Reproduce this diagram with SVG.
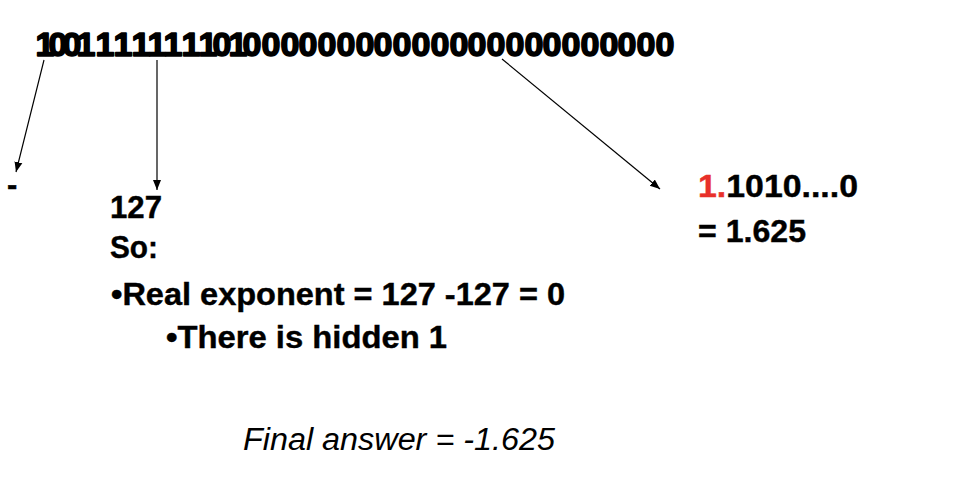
<svg xmlns="http://www.w3.org/2000/svg" width="958" height="494" viewBox="0 0 958 494">
<style>
  .t { font-family: "Liberation Sans", Arial, sans-serif; font-weight: bold; fill: #000; stroke: #000; stroke-width: 0.4; }
  .bits { font-family: "Liberation Sans", Arial, sans-serif; font-weight: bold; font-size: 34px; fill: #000; stroke: #000; stroke-width: 1.6; stroke-linejoin: round; }
  .conn { stroke: #000; stroke-width: 1.2; fill: none; }
  .red { fill: #e8302a; stroke: #e8302a; }
</style>
<defs>
  <marker id="ah" viewBox="0 0 10 10" refX="10" refY="5" markerWidth="10" markerHeight="10" markerUnits="userSpaceOnUse" orient="auto">
    <path d="M0,1 L10,5 L0,9 Z" fill="#000"/>
  </marker>
</defs>
<rect width="958" height="494" fill="#fff"/>
<g id="bits">
  <text class="bits" text-anchor="middle" y="56" x="45 58 72 86 105 123 141 157 173 191 208 222 238 252 271 290 308 327 346 365 383 402 421 440 459 477 496 515 534 552 571 590 609 627 646 665">100111111110100000000000000000000000</text>
</g>
<g id="connectors">
  <line class="conn" x1="44" y1="60" x2="16" y2="172" marker-end="url(#ah)"/>
  <line class="conn" x1="157" y1="60" x2="157" y2="190" marker-end="url(#ah)"/>
  <line class="conn" x1="502" y1="59" x2="660" y2="189" marker-end="url(#ah)"/>
</g>
<g id="sign">
  <text class="t" x="7" y="195" font-size="31">-</text>
</g>
<g id="exponent">
  <text class="t" x="110" y="218" font-size="31" textLength="52" lengthAdjust="spacingAndGlyphs">127</text>
  <text class="t" x="110" y="258" font-size="31" textLength="48" lengthAdjust="spacingAndGlyphs">So:</text>
  <text class="t" x="111" y="305" font-size="31" textLength="454" lengthAdjust="spacingAndGlyphs">•Real exponent = 127 -127 = 0</text>
  <text class="t" x="166" y="348" font-size="31" textLength="281" lengthAdjust="spacingAndGlyphs">•There is hidden 1</text>
</g>
<g id="mantissa">
  <text class="t" x="698" y="197" font-size="31" textLength="160" lengthAdjust="spacingAndGlyphs"><tspan class="red">1.</tspan>1010....0</text>
  <text class="t" x="698" y="242" font-size="31" textLength="108" lengthAdjust="spacingAndGlyphs">= 1.625</text>
</g>
<g id="answer">
  <text x="243" y="450" font-family="Liberation Sans, Arial, sans-serif" font-style="italic" font-size="31" fill="#000" textLength="312" lengthAdjust="spacingAndGlyphs">Final answer = -1.625</text>
</g>
</svg>
